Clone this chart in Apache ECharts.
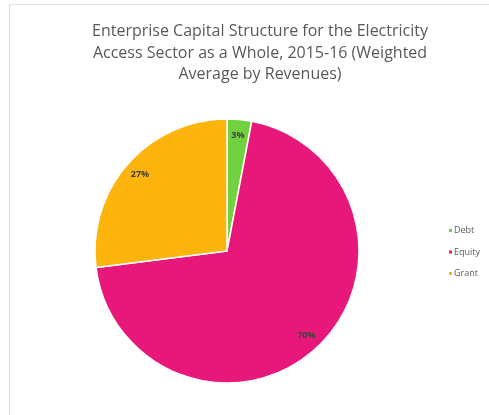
<!DOCTYPE html>
<html>
<head>
<meta charset="utf-8">
<script src="https://cdn.jsdelivr.net/npm/echarts@6/dist/echarts.min.js"></script>
<style>
  html, body { margin: 0; padding: 0; background: #ffffff; }
  #chart { width: 489px; height: 415px; }
</style>
</head>
<body>
<div id="chart"></div>
<script>
// Capital structure shares (percent of weighted revenues)
const categories = ['Debt', 'Equity', 'Grant'];
const shares = [3, 70, 27];
const colors = ['#72D13F', '#E8187A', '#FDB40C'];

const titleText = 'Enterprise Capital Structure for the Electricity\nAccess Sector as a Whole, 2015-16 (Weighted\nAverage by Revenues)';

const pieData = categories.map((name, i) => ({
  name: name,
  value: shares[i],
  itemStyle: { color: colors[i] }
}));

const chart = echarts.init(document.getElementById('chart'), null, { renderer: 'canvas' });

chart.setOption({
  backgroundColor: '#ffffff',
  animation: false,
  title: {
    text: titleText,
    left: 255,
    top: 16,
    textAlign: 'center',
    textStyle: {
      fontFamily: 'Open Sans',
      fontSize: 16,
      fontWeight: 'normal',
      color: '#595959',
      lineHeight: 21.5
    }
  },
  legend: {
    orient: 'vertical',
    left: 442,
    top: 221,
    itemWidth: 5,
    itemHeight: 5,
    itemGap: 12.5,
    icon: 'rect',
    data: categories,
    textStyle: {
      fontFamily: 'Open Sans',
      fontSize: 9,
      color: '#595959',
      padding: [0, 0, 0, -4]
    }
  },
  graphic: [
    { type: 'line', shape: { x1: 9.5, y1: 4.5, x2: 9.5, y2: 415 }, style: { stroke: '#d9d9d9', lineWidth: 1 } },
    { type: 'line', shape: { x1: 9.5, y1: 4.5, x2: 489, y2: 4.5 }, style: { stroke: '#e4e4e4', lineWidth: 1 } }
  ],
  series: [
    {
      type: 'pie',
      center: [227, 251],
      radius: [0, 132],
      startAngle: 90,
      clockwise: true,
      silent: true,
      label: { show: false },
      labelLine: { show: false },
      itemStyle: { borderColor: '#ffffff', borderWidth: 1.5 },
      data: pieData
    },
    {
      // transparent ring used only to place the percentage labels near the rim
      type: 'pie',
      center: [227, 251],
      radius: [94, 132],
      startAngle: 90,
      clockwise: true,
      silent: true,
      legendHoverLink: false,
      itemStyle: { color: 'transparent', borderWidth: 0 },
      label: {
        show: true,
        position: 'inside',
        formatter: '{d}%',
        fontFamily: 'Open Sans',
        fontSize: 9,
        fontWeight: 'bold',
        color: '#404040'
      },
      labelLine: { show: false },
      data: categories.map((name, i) => ({ name: name, value: shares[i] }))
    }
  ]
});
</script>
</body>
</html>
